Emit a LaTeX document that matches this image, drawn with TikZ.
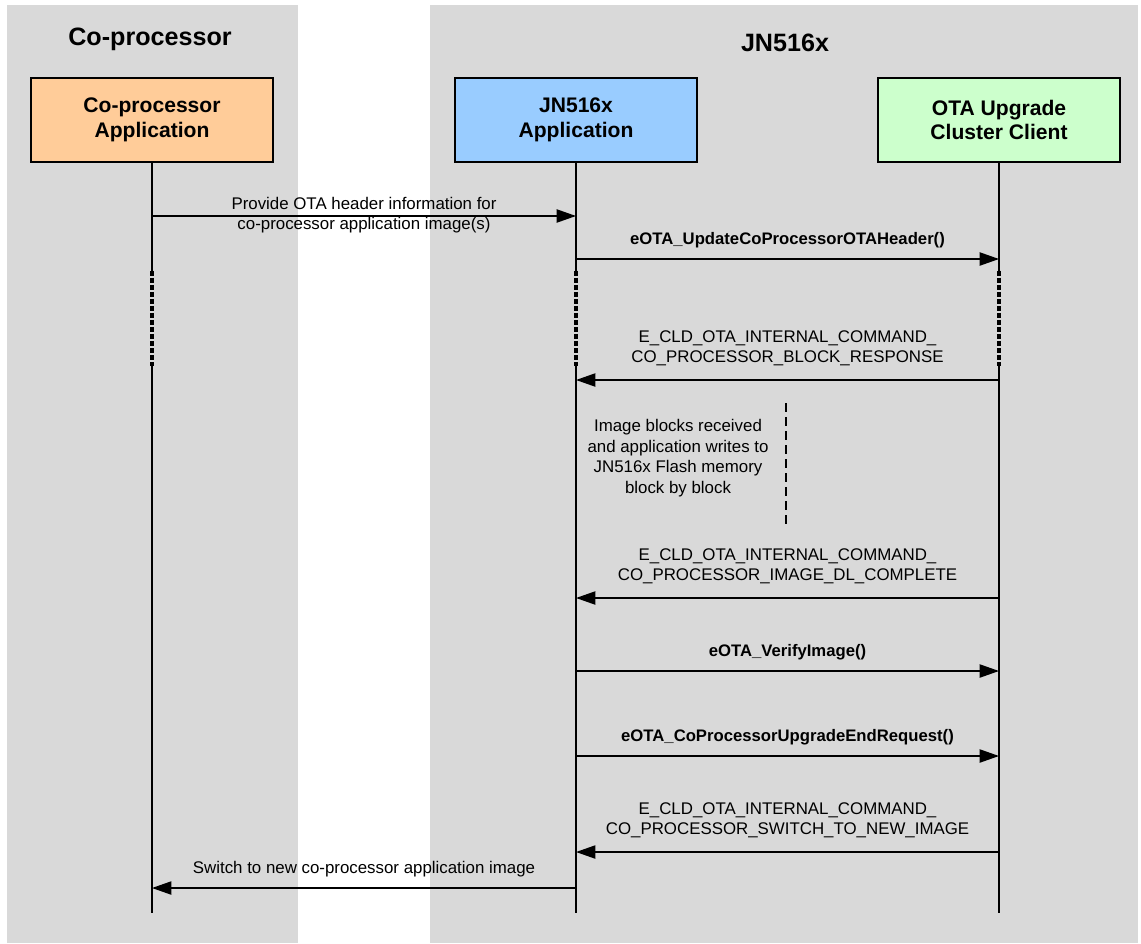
\documentclass[tikz,border=0pt]{standalone}
\usepackage{fontspec}
\setmainfont{Liberation Sans}
\usetikzlibrary{arrows.meta}
\definecolor{lanegray}{HTML}{D9D9D9}
\definecolor{cporange}{HTML}{FFCC99}
\definecolor{jnblue}{HTML}{99CCFF}
\definecolor{otagreen}{HTML}{CCFFCC}

\begin{document}
\begin{tikzpicture}[x=0.02cm,y=-0.02cm,
  actor/.style={draw,line width=0.8pt,minimum width=4.84cm,minimum height=1.68cm,align=center,font=\bfseries\fontsize{12}{14}\selectfont},
  title/.style={font=\bfseries\fontsize{14.3}{17}\selectfont},
  life/.style={line width=1.1pt},
  gap/.style={line width=2pt,dash pattern=on 3pt off 1pt},
  msg/.style={line width=0.85pt,-{Triangle[length=11pt,width=7.5pt]}},
  lbl/.style={font=\fontsize{9.6}{11.7}\selectfont,align=center},
  call/.style={font=\bfseries\fontsize{9.5}{11.7}\selectfont}]
\useasboundingbox (0,0) rectangle (1141,943);
\fill[lanegray] (7,5) rectangle (298,943);
\fill[lanegray] (430,5) rectangle (1138,943);
\node[title] (cptitle) at (150,39) {Co-processor};
\node[title] (jntitle) at (785,43) {JN516x};
\node[actor,fill=cporange] (cpapp) at (152,120) {Co-processor\\Application};
\node[actor,fill=jnblue] (jnapp) at (576,120) {JN516x\\Application};
\node[actor,fill=otagreen] (ota) at (999,120) {OTA Upgrade\\Cluster Client};
\foreach \a in {cpapp,jnapp,ota} {
  \draw[life] (\a.south) -- ++(0,108) coordinate (\a-g1);
  \draw[gap] (\a-g1) -- ++(0,95) coordinate (\a-g2);
  \draw[life] (\a-g2) -- ++(0,547) coordinate (\a-end);
}
\draw[msg] (cpapp |- 0,216) -- node[lbl,yshift=0.5pt]{Provide OTA header information for\\co-processor application image(s)} (jnapp |- 0,216);
\draw[msg] (jnapp |- 0,259) -- node[call,yshift=10.8pt]{eOTA\_UpdateCoProcessorOTAHeader()} (ota |- 0,259);
\draw[msg] (ota |- 0,380) -- node[lbl,yshift=18pt]{E\_CLD\_OTA\_INTERNAL\_COMMAND\_\\CO\_PROCESSOR\_BLOCK\_RESPONSE} (jnapp |- 0,380);
\node[lbl] (blocks) at (678,458) {Image blocks received\\and application writes to\\JN516x Flash memory\\block by block};
\coordinate (bartop) at (786,403);
\coordinate (barbot) at (786,525);
\draw[line width=1.1pt,dash pattern=on 5pt off 3pt] (bartop) -- (barbot);
\draw[msg] (ota |- 0,598) -- node[lbl,yshift=18pt]{E\_CLD\_OTA\_INTERNAL\_COMMAND\_\\CO\_PROCESSOR\_IMAGE\_DL\_COMPLETE} (jnapp |- 0,598);
\draw[msg] (jnapp |- 0,671) -- node[call,yshift=10.8pt]{eOTA\_VerifyImage()} (ota |- 0,671);
\draw[msg] (jnapp |- 0,756) -- node[call,yshift=10.8pt]{eOTA\_CoProcessorUpgradeEndRequest()} (ota |- 0,756);
\draw[msg] (ota |- 0,852) -- node[lbl,yshift=18pt]{E\_CLD\_OTA\_INTERNAL\_COMMAND\_\\CO\_PROCESSOR\_SWITCH\_TO\_NEW\_IMAGE} (jnapp |- 0,852);
\draw[msg] (jnapp |- 0,888) -- node[lbl,yshift=11pt]{Switch to new co-processor application image} (cpapp |- 0,888);
\end{tikzpicture}
\end{document}
